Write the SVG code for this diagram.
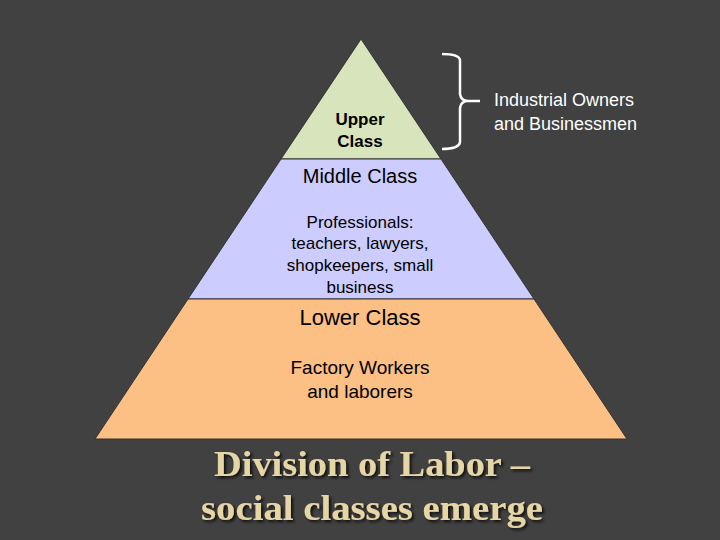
<svg xmlns="http://www.w3.org/2000/svg" width="720" height="540" viewBox="0 0 720 540">
<style>
.t{font-family:"Liberation Sans",Arial,sans-serif;fill:#000;text-anchor:middle}
.w{font-family:"Liberation Sans",Arial,sans-serif;fill:#fff;font-size:18px}
.h{font-family:"Liberation Serif","Times New Roman",serif;fill:#e6d6a6;font-size:36px;font-weight:bold;text-anchor:middle}
.sec{stroke:#333;stroke-width:1}
</style>
<defs><filter id="sh"><feDropShadow dx="2" dy="2" stdDeviation="1.5" flood-color="#000" flood-opacity="0.8"/></filter></defs>
<rect width="720" height="540" fill="#414141"/>
<g id="upper"><polygon class="sec" points="361,39 441,159 281,159" fill="#d8e4bc"/>
<text class="t" font-size="17" font-weight="bold" x="360" y="125">Upper</text><text class="t" font-size="17" font-weight="bold" x="360" y="147">Class</text></g>
<g id="middle"><polygon class="sec" points="281,159 441,159 534,299 188,299" fill="#ccccff"/>
<text class="t" font-size="20" x="360" y="183">Middle Class</text>
<text class="t" font-size="17" x="360" y="228">Professionals:</text>
<text class="t" font-size="17" x="360" y="249">teachers, lawyers,</text>
<text class="t" font-size="17" x="360" y="271">shopkeepers, small</text>
<text class="t" font-size="17" x="360" y="293">business</text></g>
<g id="lower"><polygon class="sec" points="188,299 534,299 627,439 95,439" fill="#fcbf84"/>
<text class="t" font-size="22" x="360" y="325">Lower Class</text>
<text class="t" font-size="19" x="360" y="374">Factory Workers</text>
<text class="t" font-size="19" x="360" y="398">and laborers</text></g>
<g id="connectors"><path d="M442,54 Q459,54 460,60 L460,94 Q461,101 468,101 L480,101 M468,101 Q461,101 460,108 L460,142 Q459,149 442,149" fill="none" stroke="#fff" stroke-width="2.5"/></g>
<g id="label"><text class="w" x="494" y="106">Industrial Owners</text><text class="w" x="494" y="130">and Businessmen</text></g>
<g id="title" filter="url(#sh)"><text class="h" x="372" y="476" textLength="316" lengthAdjust="spacingAndGlyphs">Division of Labor –</text><text class="h" x="372" y="520" textLength="342" lengthAdjust="spacingAndGlyphs">social classes emerge</text></g>
</svg>
